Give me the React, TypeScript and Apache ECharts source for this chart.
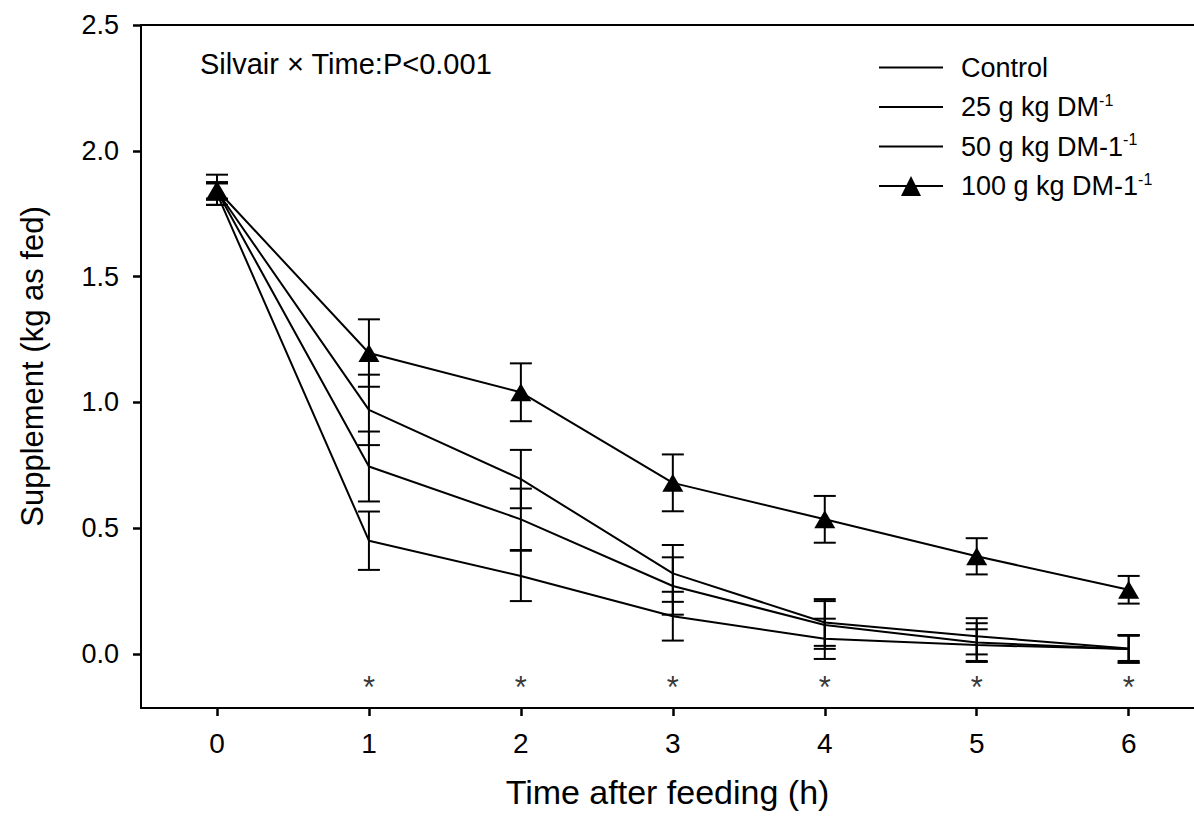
import React, { useEffect, useRef } from "react";
import * as echarts from "echarts";

const times = [0, 1, 2, 3, 4, 5, 6];
const controlMean = [1.83, 0.45, 0.31, 0.15, 0.06, 0.035, 0.02];
const controlErr = [0.045, 0.116, 0.1, 0.097, 0.08, 0.063, 0.055];
const g25Mean = [1.84, 0.745, 0.535, 0.27, 0.115, 0.045, 0.02];
const g25Err = [0.03, 0.139, 0.122, 0.114, 0.095, 0.077, 0.055];
const g50Mean = [1.84, 0.97, 0.695, 0.32, 0.125, 0.07, 0.022];
const g50Err = [0.035, 0.14, 0.116, 0.113, 0.093, 0.072, 0.05];
const g100Mean = [1.845, 1.196, 1.04, 0.68, 0.535, 0.388, 0.255];
const g100Err = [0.06, 0.134, 0.115, 0.113, 0.093, 0.072, 0.055];
const starTimes = [1, 2, 3, 4, 5, 6];
const yTicks = [0, 0.5, 1.0, 1.5, 2.0, 2.5];
const seriesNames = ["Control", "25 g kg DM", "50 g kg DM-1", "100 g kg DM-1"];

const FONT = "'Liberation Sans', Arial, sans-serif";

export default function App() {
  const ref = useRef<HTMLDivElement>(null);
  useEffect(() => {
    if (!ref.current) return;
    const chart = echarts.init(ref.current, null, { renderer: "svg" });
    const means = [controlMean, g25Mean, g50Mean, g100Mean];
    const errs = [controlErr, g25Err, g50Err, g100Err];

    const lineSeries = means.map((m, i) => ({
      type: "line",
      name: seriesNames[i],
      data: times.map((t, j) => [t, m[j]]),
      symbol: i === 3 ? "triangle" : "none",
      symbolSize: [21, 18],
      itemStyle: { color: "#000" },
      lineStyle: { color: "#000", width: 2 },
      z: 3,
    }));

    const errSeries = means.map((m, i) => ({
      type: "custom",
      name: seriesNames[i] + " err",
      data: times.map((t, j) => [t, m[j] - errs[i][j], m[j] + errs[i][j]]),
      encode: { x: 0, y: [1, 2] },
      renderItem: (params: any, api: any) => {
        const x = api.value(0);
        const lo = api.coord([x, api.value(1)]);
        const hi = api.coord([x, api.value(2)]);
        const hw = 11;
        const st = { stroke: "#000", lineWidth: 2 };
        return {
          type: "group",
          children: [
            { type: "line", shape: { x1: lo[0], y1: lo[1], x2: hi[0], y2: hi[1] }, style: st },
            { type: "line", shape: { x1: lo[0] - hw, y1: lo[1], x2: lo[0] + hw, y2: lo[1] }, style: st },
            { type: "line", shape: { x1: hi[0] - hw, y1: hi[1], x2: hi[0] + hw, y2: hi[1] }, style: st },
          ],
        };
      },
      z: 2,
    }));

    const starSeries = {
      type: "scatter",
      name: "sig",
      data: starTimes.map((t) => [t, -0.135]),
      symbolSize: 0,
      label: {
        show: true,
        position: "inside",
        formatter: "*",
        color: "#000",
        fontSize: 31,
        fontFamily: FONT,
      },
      silent: true,
    };

    const legendData = seriesNames.map((n, i) =>
      i === 3 ? { name: n, itemStyle: { color: "#000" } } : { name: n, itemStyle: { opacity: 0 } }
    );

    const option: any = {
      animation: false,
      backgroundColor: "#fff",
      grid: { left: 141, right: 0, top: 25, bottom: 820 - 708 },
      xAxis: [
        {
          type: "value",
          min: -0.5,
          max: 6.43,
          position: "bottom",
          name: "Time after feeding (h)",
          nameLocation: "middle",
          nameGap: 67,
          nameTextStyle: { fontSize: 34, color: "#000", fontFamily: FONT },
          axisLine: { show: true, onZero: false, lineStyle: { color: "#000", width: 2 } },
          axisTick: { show: true, customValues: times, length: 8, lineStyle: { color: "#000", width: 2.5 } },
          axisLabel: { customValues: times, fontSize: 28, color: "#000", margin: 21, fontFamily: FONT },
          splitLine: { show: false },
        },
        {
          type: "value",
          min: -0.5,
          max: 6.43,
          position: "top",
          axisLine: { show: true, onZero: false, lineStyle: { color: "#000", width: 2 } },
          axisTick: { show: false },
          axisLabel: { show: false },
          splitLine: { show: false },
        },
      ],
      yAxis: {
        type: "value",
        min: -0.215,
        max: 2.5,
        name: "Supplement (kg as fed)",
        nameLocation: "middle",
        nameGap: 93,
        nameTextStyle: { fontSize: 31, color: "#000", fontFamily: FONT },
        axisLine: { show: true, onZero: false, lineStyle: { color: "#000", width: 2 } },
        axisTick: { show: true, customValues: yTicks, length: 8, lineStyle: { color: "#000", width: 2.5 } },
        axisLabel: {
          customValues: yTicks,
          fontSize: 27,
          color: "#000",
          margin: 22,
          fontFamily: FONT,
          formatter: (v: number) => v.toFixed(1),
        },
        splitLine: { show: false },
      },
      legend: {
        orient: "vertical",
        left: 873,
        top: 49,
        itemWidth: 64,
        itemHeight: 25,
        itemGap: 11,
        data: legendData,
        formatter: (name: string) => (name === "Control" ? "{b|" + name + "}" : "{b|" + name + "}{s|-1}"),
        textStyle: {
          padding: [0, 0, 0, 13],
          rich: {
            b: { fontSize: 27, lineHeight: 30, color: "#000", fontFamily: FONT },
            s: { fontSize: 16, lineHeight: 14, verticalAlign: "top", color: "#000", fontFamily: FONT },
          },
        },
        lineStyle: { color: "#000", width: 2 },
      },
      graphic: [
        {
          type: "text",
          left: 200,
          top: 49,
          style: {
            text: "Silvair × Time:P<0.001",
            font: "29px " + FONT,
            fill: "#000",
          },
        },
      ],
      series: [...errSeries, ...lineSeries, starSeries],
    };
    chart.setOption(option);
    return () => chart.dispose();
  }, []);
  return (
    <div
      ref={ref}
      style={{ position: "absolute", left: 0, top: 0, width: 1194, height: 820, background: "#fff" }}
    />
  );
}
